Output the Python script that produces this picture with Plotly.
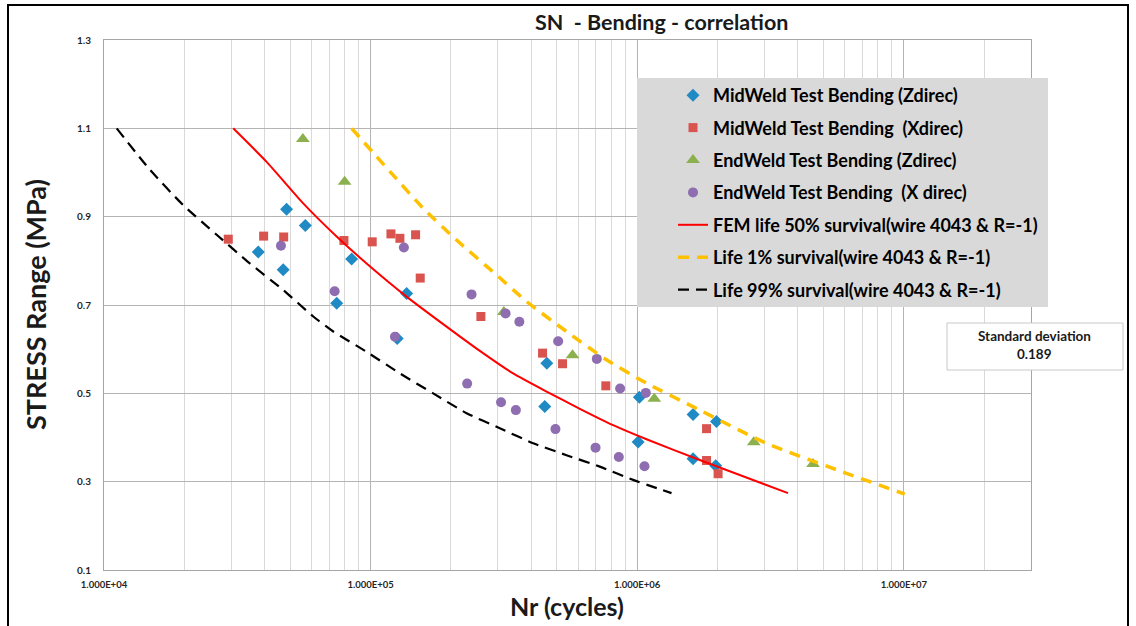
import plotly.graph_objects as go

# ---------------- data ----------------
mid_z_N = [48400, 56900, 37900, 47000, 84900, 74600, 136500, 125800,
           458000, 450000, 1019000, 1008000, 1620000, 1983000, 1620000, 1970000]
mid_z_S = [0.917, 0.880, 0.820, 0.780, 0.804, 0.704, 0.726, 0.624,
           0.568, 0.470, 0.491, 0.390, 0.452, 0.436, 0.352, 0.336]

mid_x_N = [29250, 39700, 47200, 79430, 101400, 119200, 128800, 147500, 153500,
           259200, 441500, 524800, 762500, 1820000, 1820000, 2011000]
mid_x_S = [0.849, 0.856, 0.854, 0.846, 0.843, 0.861, 0.851, 0.859, 0.761,
           0.674, 0.591, 0.567, 0.517, 0.420, 0.348, 0.318]

end_z_N = [55700, 79900, 316100, 572000, 1159000, 2736000, 4566000]
end_z_S = [1.076, 0.979, 0.684, 0.586, 0.488, 0.389, 0.340]

end_x_N = [46100, 133300, 73300, 123400, 239100, 320800, 361400, 505200, 230200,
           705500, 862800, 1077000, 308500, 350600, 493500, 697800, 853100, 1065000]
end_x_S = [0.834, 0.830, 0.731, 0.628, 0.724, 0.681, 0.662, 0.618, 0.522,
           0.578, 0.511, 0.501, 0.480, 0.462, 0.419, 0.377, 0.356, 0.335]

fem50_N = [30530, 40740, 55870, 74570, 96600, 136400, 192700, 256900, 342400,
           457000, 609300, 812300, 1084000, 1717000, 3680000]
fem50_S = [1.100, 1.024, 0.930, 0.855, 0.794, 0.719, 0.651, 0.596, 0.545,
           0.504, 0.465, 0.428, 0.396, 0.349, 0.274]

life1_N = [84900, 118200, 157500, 210100, 296800, 384400, 543000, 767000,
           1084000, 1717000, 3050000, 6090000, 10080000]
life1_S = [1.100, 1.002, 0.919, 0.847, 0.768, 0.708, 0.640, 0.576,
           0.523, 0.462, 0.387, 0.319, 0.272]

life99_N = [11160, 14880, 19830, 26460, 35270, 47020, 60930, 72420, 96600, 128800,
            171700, 229100, 305300, 407200, 543000, 723900, 965200, 1345000]
life99_S = [1.100, 1.006, 0.926, 0.859, 0.794, 0.734, 0.674, 0.640, 0.594, 0.545,
            0.500, 0.455, 0.421, 0.387, 0.360, 0.334, 0.304, 0.274]

x_tick_vals = [1e4, 1e5, 1e6, 1e7]
x_tick_text = ["1.000E+04", "1.000E+05", "1.000E+06", "1.000E+07"]
y_tick_vals = [0.1, 0.3, 0.5, 0.7, 0.9, 1.1, 1.3]
y_tick_text = ["0.1", "0.3", "0.5", "0.7", "0.9", "1.1", "1.3"]

std_dev_label = "Standard deviation"
std_dev_value = "0.189"

# ---------------- layout geometry ----------------
W, H = 1136, 626
L, R, T, B = 104, 105, 40, 56
PW, PH = W - L - R, H - T - B


def px(x):
    return (x - L) / PW


def py(y):
    return (H - B - y) / PH


FONT = "Lato"
fig = go.Figure()

fig.add_trace(go.Scatter(x=mid_z_N, y=mid_z_S, mode="markers",
                         name="MidWeld Test Bending (Zdirec)", legendgroup="a",
                         marker=dict(symbol="diamond", size=10, color="#1f8ac3")))
fig.add_trace(go.Scatter(x=mid_x_N, y=mid_x_S, mode="markers",
                         name="MidWeld Test Bending\u00a0 (Xdirec)", legendgroup="b",
                         marker=dict(symbol="square", size=9, color="#d9534f")))
fig.add_trace(go.Scatter(x=end_z_N, y=end_z_S, mode="markers",
                         name="EndWeld Test Bending (Zdirec)", legendgroup="c",
                         marker=dict(symbol="triangle-up", size=12, color="#8db04f")))
fig.add_trace(go.Scatter(x=end_x_N, y=end_x_S, mode="markers",
                         name="EndWeld Test Bending\u00a0 (X direc)", legendgroup="d",
                         marker=dict(symbol="circle", size=10, color="#8e6db0")))
fig.add_trace(go.Scatter(x=fem50_N, y=fem50_S, mode="lines",
                         name="FEM life 50% survival(wire 4043 & R=-1)", legendgroup="e",
                         line=dict(color="#ff0000", width=2, shape="spline", smoothing=0.6)))
fig.add_trace(go.Scatter(x=life1_N, y=life1_S, mode="lines",
                         name="Life 1% survival(wire 4043 & R=-1)", legendgroup="f",
                         line=dict(color="#ffc000", width=3.5, dash="11px,8px",
                                   shape="spline", smoothing=0.6)))
fig.add_trace(go.Scatter(x=life99_N, y=life99_S, mode="lines",
                         name="Life 99% survival(wire 4043 & R=-1)", legendgroup="g",
                         line=dict(color="#000000", width=2.2, dash="11px,7px",
                                   shape="spline", smoothing=0.6)))

shapes = [
    # outer frame
    dict(type="rect", xref="paper", yref="paper",
         x0=px(8), x1=px(1128), y0=py(640), y1=py(5),
         line=dict(color="#000000", width=2), fillcolor="rgba(0,0,0,0)", layer="above"),
    # legend background
    dict(type="rect", xref="paper", yref="paper",
         x0=px(637), x1=px(1048), y0=py(307), y1=py(78),
         line=dict(width=0), fillcolor="#d9d9d9", layer="above"),
    # standard deviation box
    dict(type="rect", xref="paper", yref="paper",
         x0=px(947), x1=px(1123), y0=py(370), y1=py(323),
         line=dict(color="#c8c8c8", width=1), fillcolor="#ffffff", layer="above"),
]

annotations = [
    dict(text="SN\u00a0 - Bending - correlation", xref="paper", yref="paper",
         x=px(661), y=py(22), showarrow=False, xanchor="center", yanchor="middle",
         font=dict(family=FONT, size=21.5, color="#1a1a1a", weight="bold")),
    dict(text="STRESS Range (MPa)", xref="paper", yref="paper",
         x=px(35), y=py(305), showarrow=False, textangle=-90,
         xanchor="center", yanchor="middle",
         font=dict(family=FONT, size=27, color="#1a1a1a", weight="bold")),
    dict(text="Nr (cycles)", xref="paper", yref="paper",
         x=px(567), y=py(606), showarrow=False, xanchor="center", yanchor="middle",
         font=dict(family=FONT, size=25, color="#1a1a1a", weight="bold")),
    dict(text=std_dev_label, xref="paper", yref="paper",
         x=px(1034), y=py(336), showarrow=False, xanchor="center", yanchor="middle",
         font=dict(family=FONT, size=13.5, color="#1a1a1a", weight="bold")),
    dict(text=std_dev_value, xref="paper", yref="paper",
         x=px(1034), y=py(354), showarrow=False, xanchor="center", yanchor="middle",
         font=dict(family=FONT, size=13.5, color="#1a1a1a", weight="bold")),
]

fig.update_layout(
    width=W, height=H,
    margin=dict(l=L, r=R, t=T, b=B, autoexpand=False),
    paper_bgcolor="#ffffff", plot_bgcolor="#ffffff",
    showlegend=True,
    legend=dict(x=px(673), y=py(77), xanchor="left", yanchor="top",
                bgcolor="rgba(0,0,0,0)", borderwidth=0,
                font=dict(family=FONT, size=18, color="#000000", weight="bold"),
                tracegroupgap=6, itemwidth=30),
    shapes=shapes, annotations=annotations,
    xaxis=dict(type="log", range=[4, 7.4771], tickvals=x_tick_vals, ticktext=x_tick_text,
               showgrid=True, gridcolor="#b4b4b4", gridwidth=1,
               minor=dict(dtick="D1", showgrid=True, gridcolor="#d9d9d9", gridwidth=1),
               showline=True, linecolor="#a6a6a6", linewidth=1, mirror=True,
               ticks="", ticklabelstandoff=6, zeroline=False,
               tickfont=dict(family=FONT, size=9.5, color="#262626", weight="bold")),
    yaxis=dict(range=[0.1, 1.3], tickvals=y_tick_vals, ticktext=y_tick_text,
               showgrid=True, gridcolor="#b4b4b4", gridwidth=1,
               showline=True, linecolor="#a6a6a6", linewidth=1, mirror=True,
               ticks="", ticklabelstandoff=10, zeroline=False,
               tickfont=dict(family=FONT, size=10, color="#262626", weight="bold")),
)

fig.write_html("out.html")
